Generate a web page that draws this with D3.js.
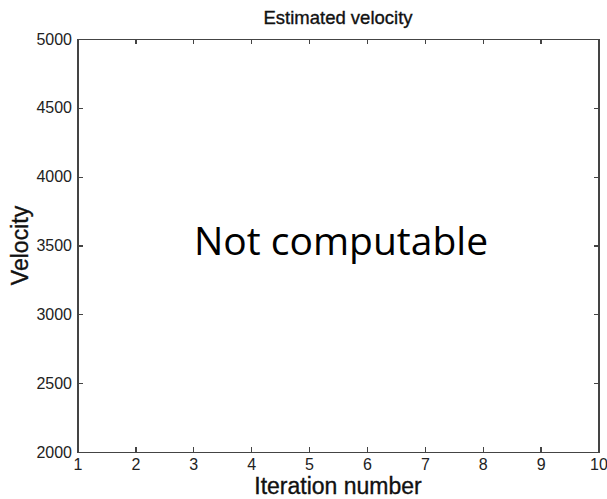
<!DOCTYPE html>
<html>
<head>
<meta charset="utf-8">
<script src="https://cdn.jsdelivr.net/npm/d3@7"></script>
<style>
  body { margin: 0; background: #fff; }
  .axis text { font-family: "Liberation Sans", Arial, sans-serif; font-size: 16px; fill: #222; }
  .axis path, .axis line { stroke: #444; stroke-width: 1.3px; shape-rendering: crispEdges; }
  .label { fill: #111; stroke: #111; stroke-width: 0.35px; }
</style>
</head>
<body>
<script>
// axis setup, no series drawn
var xDomain = [1, 10];
var yDomain = [2000, 5000];
var xTicks = [1, 2, 3, 4, 5, 6, 7, 8, 9, 10];
var yTicks = [2000, 2500, 3000, 3500, 4000, 4500, 5000];
var titleText = "Estimated velocity";
var xLabel = "Iteration number";
var yLabel = "Velocity";
var note = "Not computable";

var margin = {top: 39, right: 8.5, bottom: 47, left: 77.5};
var svg = d3.select("body").append("svg")
    .attr("width", 607)
    .attr("height", 499);
var width = svg.attr("width") - margin.left - margin.right,
    height = svg.attr("height") - margin.top - margin.bottom,
    g = svg.append("g").attr("transform", "translate(" + margin.left + "," + margin.top + ")");

var x = d3.scaleLinear().domain(xDomain).range([0, width]),
    y = d3.scaleLinear().domain(yDomain).range([height, 0]);

// bottom axis, ticks pointing in
g.append("g")
    .attr("class", "axis")
    .attr("transform", "translate(0," + height + ")")
    .call(d3.axisBottom(x).tickValues(xTicks).tickFormat(d3.format("d"))
      .tickSizeInner(-5).tickSizeOuter(0).tickPadding(7));

// top axis, no labels
g.append("g")
    .attr("class", "axis")
    .call(d3.axisTop(x).tickValues(xTicks).tickSizeInner(-5).tickSizeOuter(0).tickFormat(""));

g.append("g")
    .attr("class", "axis")
    .call(d3.axisLeft(y).tickValues(yTicks).tickFormat(d3.format("d"))
      .tickSizeInner(-5).tickSizeOuter(0).tickPadding(5.5));

g.append("g")
    .attr("class", "axis")
    .attr("transform", "translate(" + width + ",0)")
    .call(d3.axisRight(y).tickValues(yTicks).tickSizeInner(-5).tickSizeOuter(0).tickFormat(""));

// Titles
svg.append("text")
    .attr("class", "label")
    .attr("x", margin.left + width / 2)
    .attr("y", 24)
    .attr("text-anchor", "middle")
    .style("font", "18.5px 'Liberation Sans', Arial, sans-serif")
    .text(titleText);

svg.append("text")
    .attr("class", "label")
    .attr("x", margin.left + width / 2)
    .attr("y", 494)
    .attr("text-anchor", "middle")
    .style("font", "23px 'Liberation Sans', Arial, sans-serif")
    .text(xLabel);

svg.append("text")
    .attr("class", "label")
    .attr("transform", "translate(28," + (margin.top + height / 2) + ") rotate(-90)")
    .attr("text-anchor", "middle")
    .style("font", "23px 'Liberation Sans', Arial, sans-serif")
    .text(yLabel);

g.append("text")
    .attr("x", width / 2 + 3)
    .attr("y", y(3500) + 9)
    .attr("text-anchor", "middle")
    .style("font", "39px 'Open Sans', 'Noto Sans', sans-serif")
    .style("fill", "#000")
    .text(note);
</script>
</body>
</html>
